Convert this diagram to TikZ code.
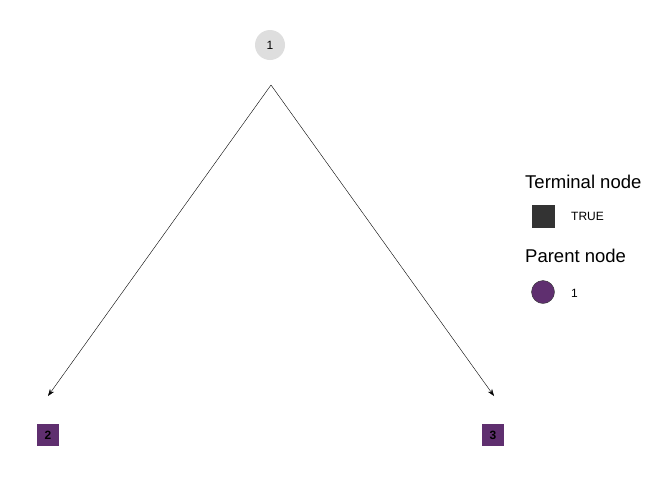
\documentclass[tikz,border=0pt]{standalone}
\usepackage{fontspec}
\setmainfont{Liberation Sans}
\usetikzlibrary{arrows.meta}
\definecolor{leafpurple}{HTML}{5F2F6F}
\definecolor{rootgray}{HTML}{DEDEDE}
\definecolor{legenddark}{HTML}{333333}

\begin{document}
\begin{tikzpicture}[x=1pt,y=-1pt,
  rootnode/.style={circle,fill=rootgray,minimum size=30pt,inner sep=0pt,font=\fontsize{12}{14}\selectfont},
  leafnode/.style={rectangle,fill=leafpurple,minimum size=22pt,inner sep=0pt,font=\fontsize{12}{14}\selectfont\bfseries},
  edge/.style={-{Stealth[length=7pt,width=5pt]},thin},
  legendtitle/.style={anchor=base west,inner sep=0pt,font=\fontsize{18.5}{21}\selectfont},
  legendtext/.style={anchor=west,inner sep=0pt,font=\fontsize{12}{14}\selectfont}]
  \useasboundingbox (0,0) rectangle (672,480);
  % tree
  \node[rootnode] (n1) at (270,45) {1};
  \node[leafnode] (n2) at (48,435) {2};
  \node[leafnode] (n3) at (493,435) {3};
  \coordinate (split) at (271,85);
  \coordinate (end2) at (48,396);
  \coordinate (end3) at (494,396);
  \draw[edge] (split) -- (end2);
  \draw[edge] (split) -- (end3);
  % legend
  \node[legendtitle] (termtitle) at (525,188) {Terminal node};
  \node[rectangle,fill=legenddark,minimum size=23pt,inner sep=0pt] (termkey) at (543,216) {};
  \node[legendtext] (termlabel) at (571,216) {TRUE};
  \node[legendtitle] (parenttitle) at (525,262) {Parent node};
  \node[circle,fill=leafpurple,draw=black!80,minimum size=23pt,inner sep=0pt] (parentkey) at (543,292) {};
  \node[legendtext] (parentlabel) at (571,293) {1};
\end{tikzpicture}
\end{document}
